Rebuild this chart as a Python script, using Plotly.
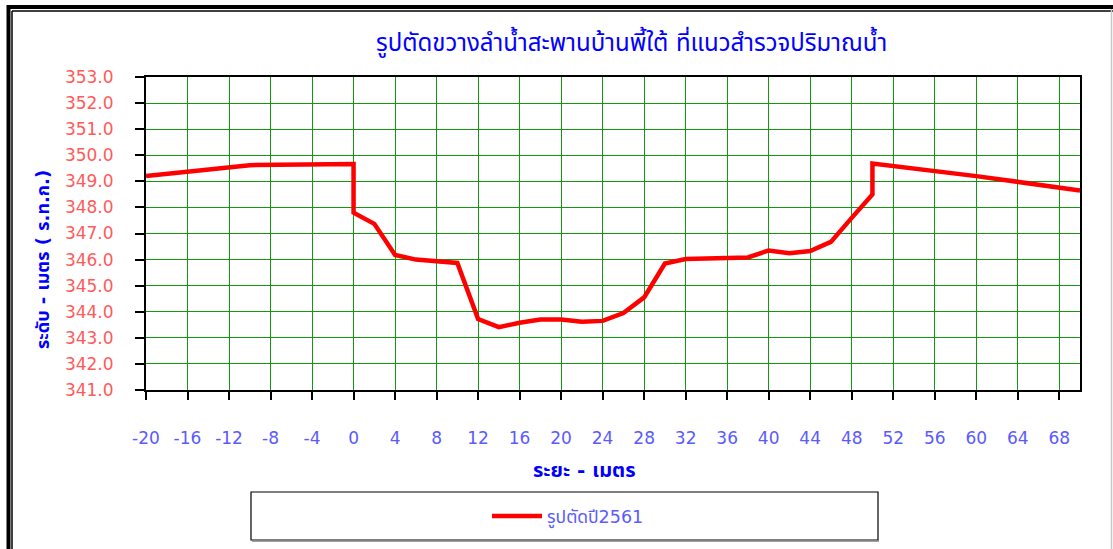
import plotly.graph_objects as go

# ---- data ----
distance_m = [-20, -10, 0, 0, 2, 4, 6, 10, 12, 14, 16, 18, 20, 22, 24, 26, 28, 30,
              32, 34, 38, 40, 42, 44, 46, 48, 50, 50, 60, 70]
level_m = [349.2, 349.62, 349.66, 347.8, 347.37, 346.18, 346.0, 345.87, 343.72, 343.41,
           343.58, 343.7, 343.7, 343.62, 343.65, 343.95, 344.55, 345.85, 346.02, 346.05,
           346.08, 346.35, 346.24, 346.33, 346.68, 347.6, 348.5, 349.68, 349.2, 348.65]
x_tick_values = [-20, -16, -12, -8, -4, 0, 4, 8, 12, 16, 20, 24, 28, 32, 36, 40, 44,
                 48, 52, 56, 60, 64, 68]
x_tick_labels = ["-20", "-16", "-12", "-8", "-4", "0", "4", "8", "12", "16", "20", "24",
                 "28", "32", "36", "40", "44", "48", "52", "56", "60", "64", "68"]
series_name = "รูปตัดปี2561"
title_text = "รูปตัดขวางลำน้ำสะพานบ้านพี้ใต้ ที่แนวสำรวจปริมาณน้ำ"
x_title = "ระยะ - เมตร"
y_title = "ระดับ - เมตร ( ร.ท.ก.)"

W, H = 1113, 549
L, R, T, B = 146, 33, 77, 159
PW, PH = W - L - R, H - T - B

def px(x):
    return (x - L) / PW

def py(y):
    return (H - B - y) / PH

FONT = "Tahoma, 'DejaVu Sans', 'Noto Sans Thai', 'Noto Sans', sans-serif"

fig = go.Figure()
fig.add_trace(go.Scatter(
    x=distance_m, y=level_m, mode="lines", name=series_name,
    line=dict(color="#ff0000", width=4.5),
))

grid = "#109a10"
fig.update_xaxes(
    range=[-20, 70], tickvals=x_tick_values, ticktext=x_tick_labels,
    showgrid=True, gridcolor=grid, gridwidth=1.3,
    showline=True, linecolor="black", linewidth=2, mirror=True, zeroline=False,
    ticks="outside", ticklen=8, tickwidth=2, tickcolor="black",
    ticklabelstandoff=24,
    tickfont=dict(family=FONT, size=17, color="#5a5aff"),
)
fig.update_yaxes(
    range=[341, 353], dtick=1, tickformat=".1f", showgrid=True, gridcolor=grid, gridwidth=1.3,
    showline=True, linecolor="black", linewidth=2, mirror=True, zeroline=False,
    ticks="outside", ticklen=9, tickwidth=2, tickcolor="black",
    ticklabelstandoff=18,
    tickfont=dict(family=FONT, size=17, color="#ff5a5a"),
)

shapes = []
def pline(x0, y0, x1, y1, color="black", width=1):
    shapes.append(dict(type="line", xref="paper", yref="paper",
                       x0=px(x0), y0=py(y0), x1=px(x1), y1=py(y1),
                       line=dict(color=color, width=width), layer="above"))

# page frame
pline(7, 7, W, 7, width=4)
pline(8.5, 5, 8.5, H, width=4)
pline(12, 11, W, 11, width=1.5)
pline(12, 11, 12, H, width=1.5)
pline(1111.5, 9, 1111.5, H, color="#c8c8c8", width=1.5)
# legend box
shapes.append(dict(type="rect", xref="paper", yref="paper",
                   x0=px(251), y0=py(492), x1=px(878), y1=py(540),
                   line=dict(color="black", width=1.2), fillcolor="white", layer="below"))
pline(252, 541, 879, 541, color="#808080", width=1.5)

annotations = [
    dict(text=title_text, xref="paper", yref="paper", x=px(631), y=py(42),
         xanchor="center", yanchor="middle", showarrow=False,
         font=dict(family=FONT, size=24, color="#0000ff")),
    dict(text="<b>" + x_title + "</b>", xref="paper", yref="paper", x=px(584), y=py(470),
         xanchor="center", yanchor="middle", showarrow=False,
         font=dict(family=FONT, size=20, color="#0000ff")),
    dict(text="<b>" + y_title + "</b>", xref="paper", yref="paper", x=px(42), y=py(260),
         xanchor="center", yanchor="middle", showarrow=False, textangle=-90,
         font=dict(family=FONT, size=18, color="#0000ff")),
]

fig.update_layout(
    width=W, height=H, margin=dict(l=L, r=R, t=T, b=B, autoexpand=False),
    paper_bgcolor="white", plot_bgcolor="white",
    shapes=shapes, annotations=annotations,
    showlegend=True,
    legend=dict(x=px(487), y=py(516), xanchor="left", yanchor="middle",
                bgcolor="rgba(0,0,0,0)", borderwidth=0, itemwidth=50,
                font=dict(family=FONT, size=17.5, color="#5a5aff")),
)

fig.write_html("out.html", config={"displayModeBar": False},
               post_script="document.body.style.margin='0';")
